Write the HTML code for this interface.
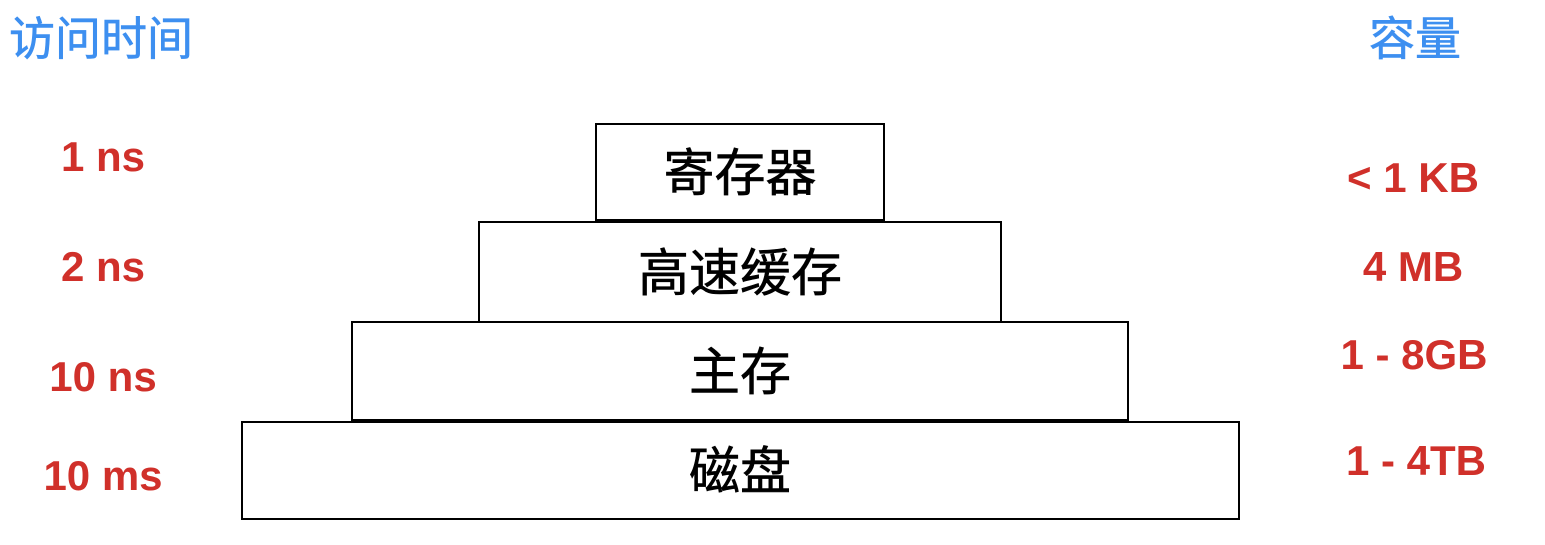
<!DOCTYPE html>
<html><head><meta charset="utf-8"><style>
html,body{margin:0;padding:0;background:#fff;}
</style></head><body>
<svg width="1545" height="545" xmlns="http://www.w3.org/2000/svg" style="display:block">
<g font-family="'Liberation Sans','Noto Sans CJK SC',sans-serif">
<text x="9" y="55" font-size="46" fill="#3d8ff0" stroke="#3d8ff0" stroke-width="0.6">访问时间</text>
<text x="1415" y="55" font-size="46" fill="#3d8ff0" stroke="#3d8ff0" stroke-width="0.6" text-anchor="middle">容量</text>
<g fill="#d0302a" font-weight="bold" font-size="42" text-anchor="middle">
<text x="103" y="171">1 ns</text>
<text x="103" y="281">2 ns</text>
<text x="103" y="391">10 ns</text>
<text x="103" y="490">10 ms</text>
<text x="1413" y="192">&lt; 1 KB</text>
<text x="1413" y="281">4 MB</text>
<text x="1414" y="369">1 - 8GB</text>
<text x="1416" y="475">1 - 4TB</text>
</g>
<g fill="#fff" stroke="#000" stroke-width="2">
<rect x="596" y="124" width="288" height="96"/>
<rect x="479" y="222" width="522" height="100"/>
<rect x="352" y="322" width="776" height="98"/>
<rect x="242" y="422" width="997" height="97"/>
</g>
<g font-size="51" text-anchor="middle" fill="#000" stroke="#000" stroke-width="0.6">
<text x="740" y="191">寄存器</text>
<text x="740" y="291">高速缓存</text>
<text x="740" y="390">主存</text>
<text x="740" y="489">磁盘</text>
</g>
</g>
</svg>
</body></html>
